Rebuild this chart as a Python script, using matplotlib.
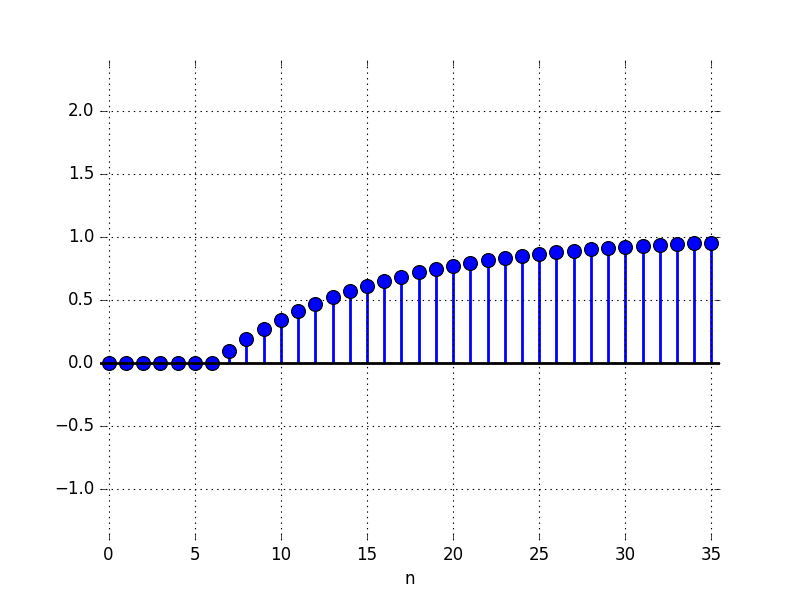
import matplotlib
matplotlib.use("Agg")
import matplotlib.pyplot as plt

n = list(range(36))
values = [0, 0, 0, 0, 0, 0, 0,
          0.100, 0.190, 0.271, 0.344, 0.410, 0.469, 0.522, 0.570,
          0.613, 0.651, 0.686, 0.718, 0.746, 0.771, 0.794, 0.815,
          0.833, 0.850, 0.865, 0.878, 0.890, 0.901, 0.911, 0.920,
          0.928, 0.935, 0.942, 0.948, 0.953]

plt.style.use('classic')
fig = plt.figure(figsize=(8, 6), dpi=100)
ax = fig.add_axes([0.125, 0.1, 0.775, 0.8])
ml, sl, bl = ax.stem(n, values, linefmt='b-', markerfmt='bo', basefmt='k-')
ml.set_markersize(10)
ml.set_markeredgecolor('black')
ml.set_markeredgewidth(0.8)
ml.set_zorder(3)
sl.set_linewidth(2)
bl.set_visible(False)
ax.axhline(0, color='black', linewidth=2, zorder=4)
ax.set_xlim(-0.5, 35.5)
ax.set_ylim(-1.4, 2.4)
ax.set_xticks([0, 5, 10, 15, 20, 25, 30, 35])
ax.set_yticks([-1.0, -0.5, 0.0, 0.5, 1.0, 1.5, 2.0])
ax.grid(True, color='black', linestyle=':', linewidth=0.8)
for s in ax.spines.values():
    s.set_visible(False)
ax.tick_params(direction='in', top=True, right=True, labelsize=12)
ax.set_xlabel('n', fontsize=12)
fig.savefig('out.png', dpi=100)
